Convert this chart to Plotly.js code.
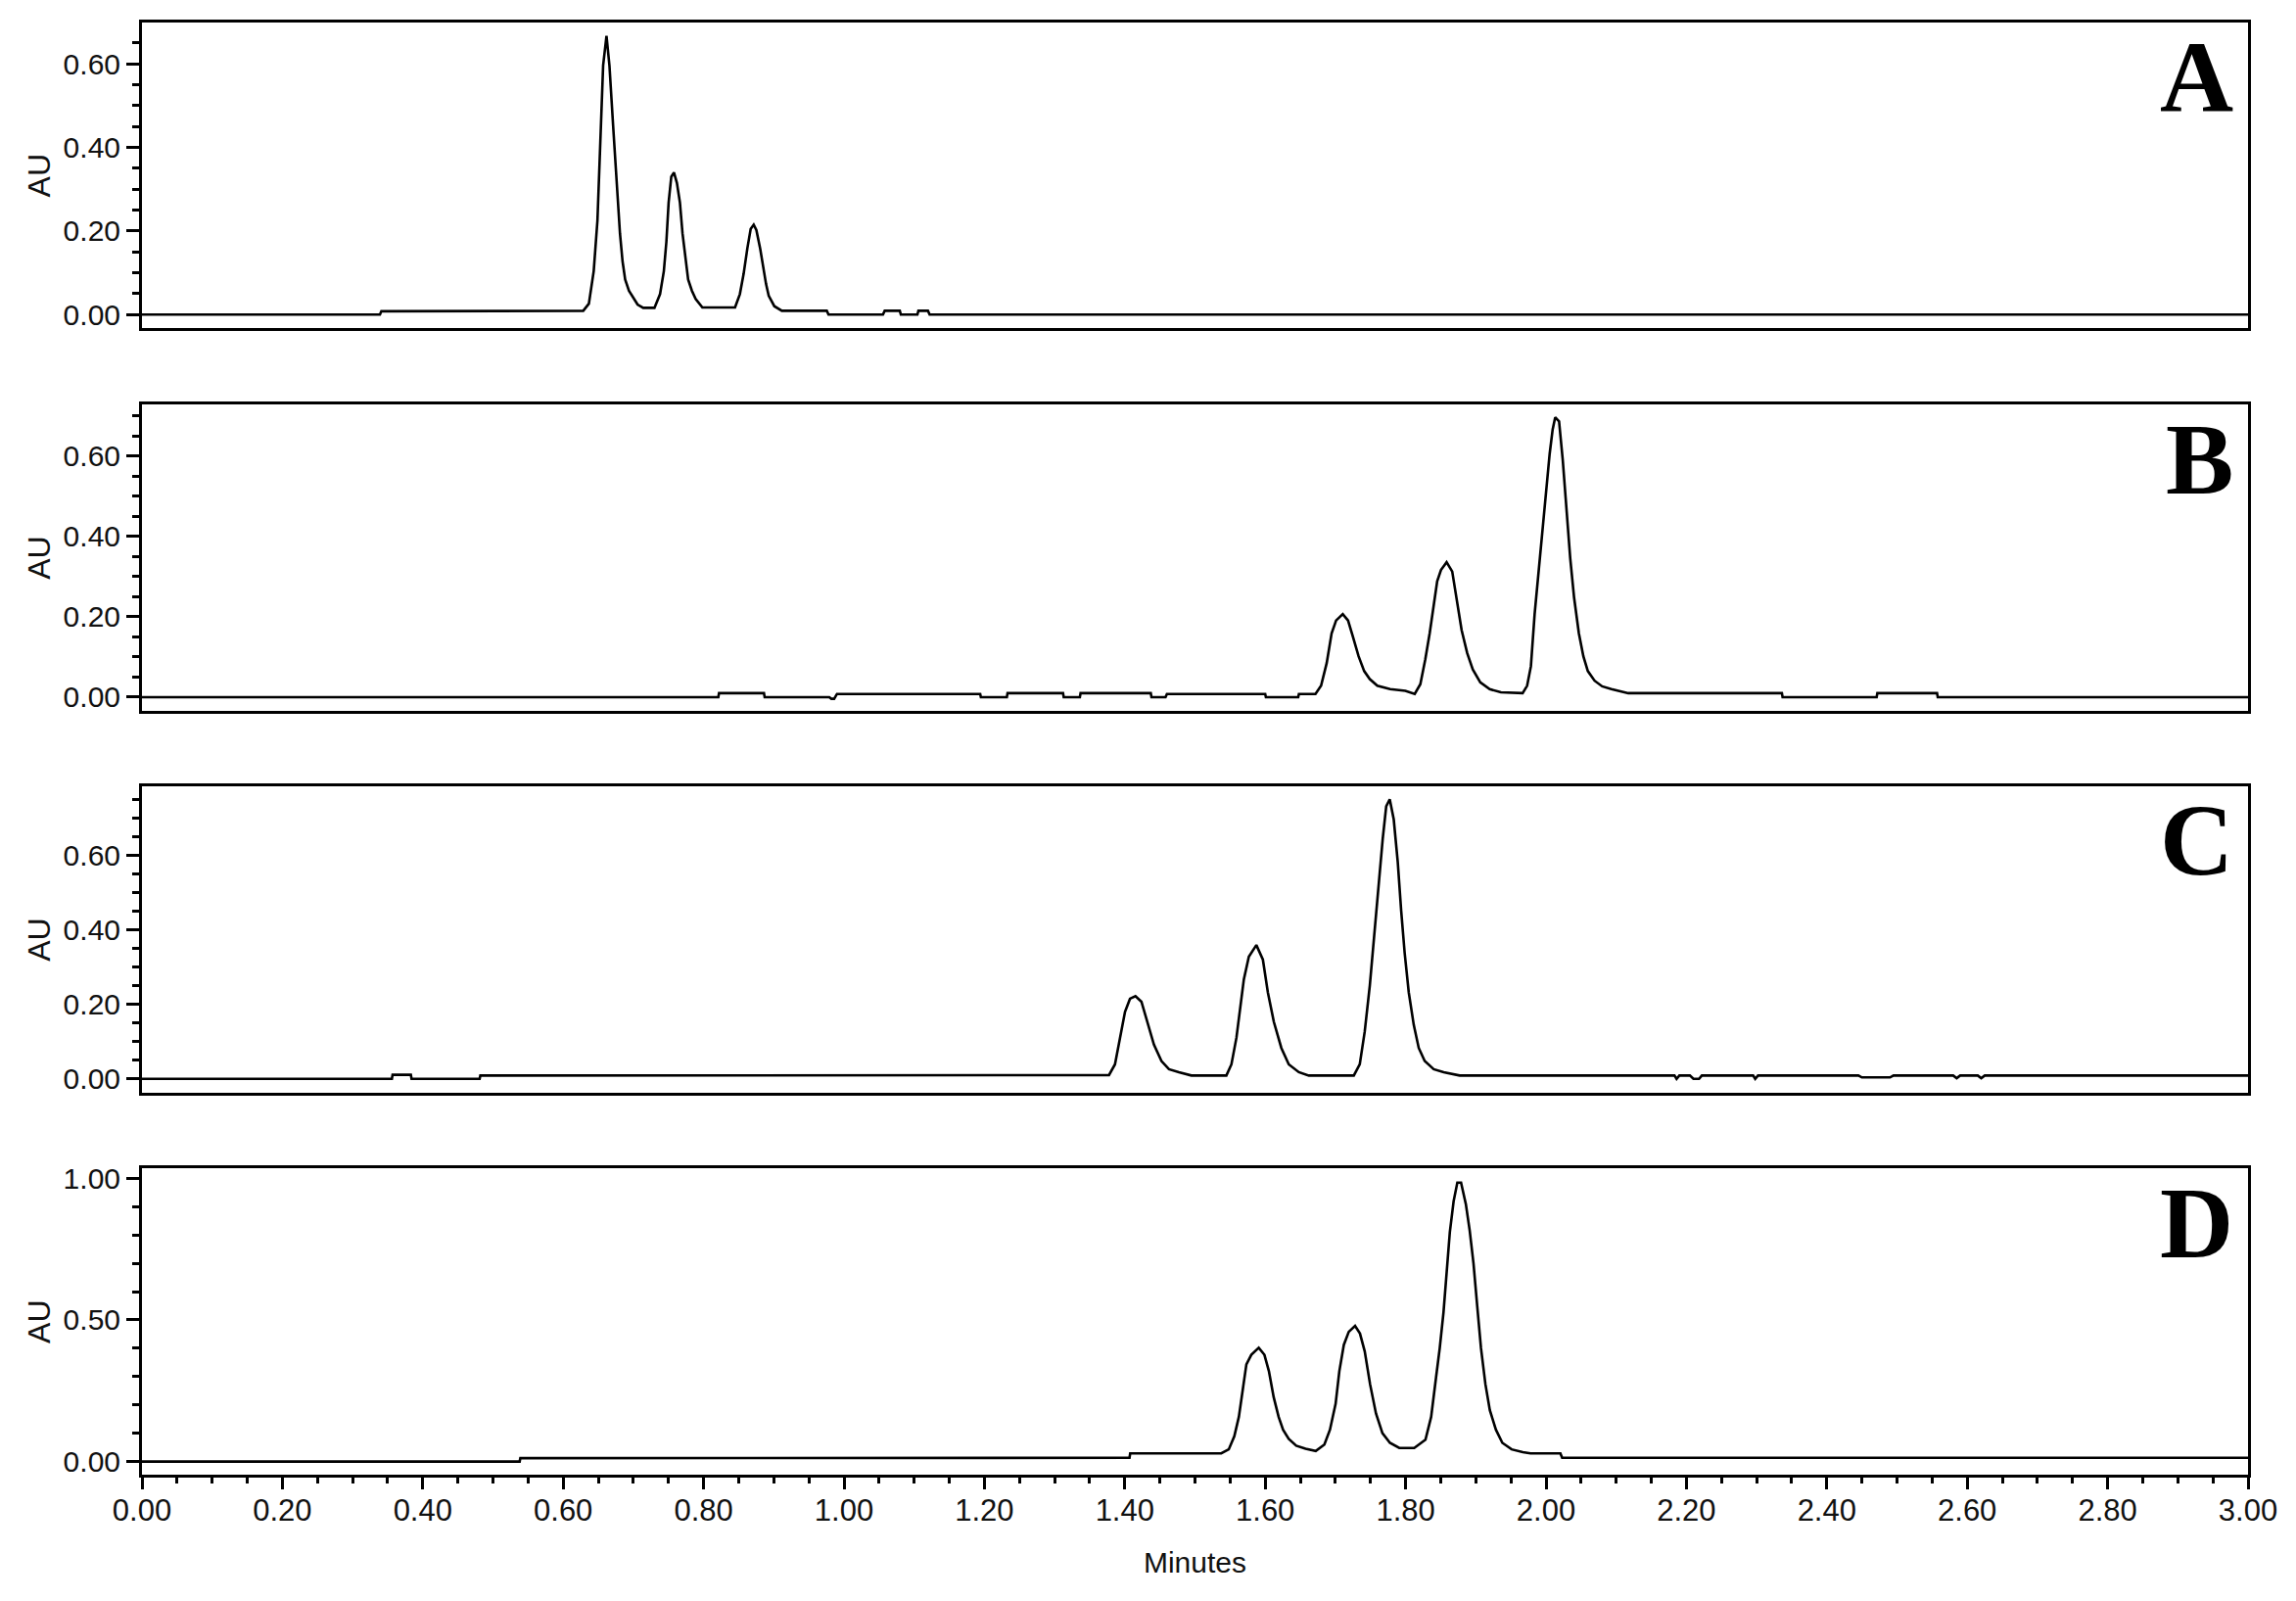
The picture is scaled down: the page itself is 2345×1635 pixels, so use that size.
<!DOCTYPE html>
<html>
<head>
<meta charset="utf-8">
<script src="https://cdn.plot.ly/plotly-3.0.1.min.js"></script>
<style>html,body{margin:0;padding:0;background:#fff;}</style>
</head>
<body>
<div id="chart" style="width:2345px;height:1635px;"></div>
<script>
// ---------- data ----------
const panelLabels = ['A', 'B', 'C', 'D'];
const xAxisTitle = 'Minutes';
const yAxisTitle = 'AU';

// Panel A
const timeA = [0, 0.339, 0.341, 0.6286, 0.6366, 0.6435, 0.6488, 0.6526, 0.6569, 0.6617, 0.6659, 0.6713, 0.6766, 0.6809, 0.6846, 0.6883, 0.6937, 0.7006, 0.706, 0.714, 0.730, 0.738, 0.7434, 0.747, 0.7502, 0.754, 0.7578, 0.762, 0.7663, 0.770, 0.7738, 0.778, 0.7834, 0.7887, 0.7983, 0.8448, 0.8517, 0.857, 0.8624, 0.8671, 0.8714, 0.8752, 0.8805, 0.8848, 0.889, 0.8928, 0.9008, 0.9115, 0.9755, 0.978, 1.0555, 1.058, 1.0795, 1.081, 1.1046, 1.106, 1.1196, 1.122, 3.0];
const auA   = [0, 0, 0.008, 0.009, 0.026, 0.104, 0.225, 0.415, 0.596, 0.667, 0.596, 0.448, 0.299, 0.194, 0.127, 0.084, 0.057, 0.0375, 0.024, 0.016, 0.016, 0.049, 0.104, 0.174, 0.268, 0.330, 0.340, 0.315, 0.268, 0.194, 0.135, 0.084, 0.057, 0.0375, 0.017, 0.017, 0.049, 0.097, 0.159, 0.205, 0.215, 0.202, 0.159, 0.112, 0.073, 0.045, 0.020, 0.009, 0.009, 0, 0, 0.009, 0.009, 0, 0, 0.009, 0.009, 0, 0];

// Panel B
const timeB = [0, 0.821, 0.822, 0.886, 0.887, 0.979, 0.982, 0.986, 0.99, 1.194, 1.195, 1.232, 1.233, 1.312, 1.313, 1.336, 1.337, 1.437, 1.438, 1.458, 1.46, 1.600, 1.601, 1.647, 1.648, 1.6716, 1.6796, 1.6876, 1.6946, 1.701, 1.7105, 1.718, 1.725, 1.733, 1.741, 1.749, 1.7597, 1.778, 1.7997, 1.813, 1.821, 1.828, 1.8343, 1.8396, 1.845, 1.8504, 1.8584, 1.8664, 1.8728, 1.8798, 1.8877, 1.8957, 1.9064, 1.9198, 1.9358, 1.9667, 1.9731, 1.9785, 1.9838, 1.9891, 1.9944, 1.9998, 2.0052, 2.0095, 2.0131, 2.0186, 2.0239, 2.0292, 2.0345, 2.040, 2.0468, 2.0532, 2.0596, 2.0692, 2.080, 2.0932, 2.1173, 2.336, 2.337, 2.471, 2.472, 2.557, 2.558, 3.0];
const auB   = [0, 0, 0.01, 0.01, 0, 0, -0.004, -0.004, 0.008, 0.008, 0, 0, 0.01, 0.01, 0, 0, 0.01, 0.01, 0, 0, 0.008, 0.008, 0, 0, 0.008, 0.008, 0.0285, 0.085, 0.159, 0.191, 0.207, 0.191, 0.150, 0.102, 0.065, 0.045, 0.0285, 0.020, 0.016, 0.008, 0.0325, 0.094, 0.159, 0.224, 0.289, 0.317, 0.336, 0.313, 0.240, 0.167, 0.110, 0.069, 0.037, 0.020, 0.012, 0.010, 0.0285, 0.077, 0.207, 0.305, 0.419, 0.520, 0.606, 0.667, 0.697, 0.687, 0.590, 0.468, 0.346, 0.248, 0.159, 0.102, 0.065, 0.041, 0.027, 0.020, 0.01, 0.01, 0, 0, 0.01, 0.01, 0, 0];

// Panel C
const timeC = [0, 0.356, 0.357, 0.383, 0.384, 0.481, 0.482, 1.3775, 1.386, 1.3932, 1.4003, 1.4074, 1.4152, 1.4237, 1.4323, 1.4415, 1.4522, 1.4629, 1.4771, 1.4949, 1.5447, 1.5519, 1.559, 1.5639, 1.5696, 1.5767, 1.5874, 1.5967, 1.6038, 1.6123, 1.623, 1.6336, 1.6479, 1.6621, 1.7262, 1.7347, 1.7418, 1.749, 1.7561, 1.7618, 1.7674, 1.7724, 1.7774, 1.7831, 1.7888, 1.7937, 1.7987, 1.8045, 1.8116, 1.8187, 1.8272, 1.84, 1.8543, 1.877, 2.183, 2.186, 2.19, 2.205, 2.21, 2.218, 2.222, 2.295, 2.298, 2.302, 2.445, 2.45, 2.49, 2.495, 2.58, 2.585, 2.59, 2.615, 2.62, 2.625, 3.0];
const auC   = [0, 0, 0.011, 0.011, 0, 0, 0.009, 0.01, 0.039, 0.11, 0.18, 0.215, 0.222, 0.207, 0.153, 0.092, 0.048, 0.026, 0.018, 0.009, 0.009, 0.039, 0.11, 0.188, 0.267, 0.328, 0.359, 0.320, 0.232, 0.153, 0.083, 0.039, 0.018, 0.009, 0.009, 0.039, 0.127, 0.25, 0.407, 0.539, 0.644, 0.731, 0.750, 0.696, 0.582, 0.451, 0.337, 0.232, 0.145, 0.083, 0.048, 0.026, 0.018, 0.009, 0.009, 0, 0.009, 0.009, 0, 0, 0.009, 0.009, 0, 0.009, 0.009, 0.004, 0.004, 0.009, 0.009, 0.002, 0.009, 0.009, 0.002, 0.009, 0.009];

// Panel D
const timeD = [0, 0.538, 0.539, 1.4067, 1.4077, 1.5374, 1.5481, 1.556, 1.5625, 1.5679, 1.5732, 1.5802, 1.5908, 1.5989, 1.6053, 1.6121, 1.6191, 1.6255, 1.6335, 1.6442, 1.6575, 1.672, 1.6843, 1.6922, 1.7003, 1.7056, 1.712, 1.719, 1.728, 1.735, 1.7418, 1.7494, 1.7578, 1.767, 1.7777, 1.791, 1.8123, 1.8283, 1.8364, 1.8433, 1.8486, 1.854, 1.8593, 1.863, 1.8684, 1.8737, 1.879, 1.8859, 1.8913, 1.8967, 1.902, 1.9074, 1.9137, 1.920, 1.9287, 1.9378, 1.951, 1.967, 1.978, 2.0205, 2.023, 3.0];
const auD   = [0, 0, 0.012, 0.013, 0.029, 0.029, 0.043, 0.089, 0.158, 0.250, 0.343, 0.377, 0.402, 0.377, 0.319, 0.227, 0.158, 0.112, 0.080, 0.056, 0.045, 0.037, 0.060, 0.112, 0.204, 0.319, 0.412, 0.458, 0.479, 0.452, 0.389, 0.273, 0.170, 0.100, 0.066, 0.048, 0.048, 0.077, 0.158, 0.296, 0.400, 0.527, 0.677, 0.810, 0.919, 0.985, 0.985, 0.908, 0.816, 0.700, 0.550, 0.400, 0.273, 0.181, 0.112, 0.066, 0.043, 0.033, 0.029, 0.029, 0.013, 0.013];

// ---------- presentation ----------
const labelFont = 'Liberation Sans, Arial, sans-serif';
const lineStyle = {color: '#000', width: 2.6, shape: 'linear'};

const series = [
  {t: timeA, v: auA, xa: 'x2', ya: 'y'},
  {t: timeB, v: auB, xa: 'x3', ya: 'y2'},
  {t: timeC, v: auC, xa: 'x4', ya: 'y3'},
  {t: timeD, v: auD, xa: 'x',  ya: 'y4'}
];
const traces = series.map(s => ({
  type: 'scatter', mode: 'lines', x: s.t, y: s.v,
  xaxis: s.xa, yaxis: s.ya, line: lineStyle, hoverinfo: 'skip'
}));

function yAxis(domain, range, dtick, minorDtick, anchor) {
  return {
    domain: domain, range: range, anchor: anchor,
    showline: true, linecolor: '#000', linewidth: 3, mirror: true,
    showgrid: false, zeroline: false,
    ticks: 'outside', ticklen: 13, tickwidth: 3, tickcolor: '#000',
    tick0: 0, dtick: dtick, tickformat: '.2f',
    minor: {dtick: minorDtick, tick0: 0, ticks: 'outside', ticklen: 7, tickwidth: 3, tickcolor: '#000', showgrid: false},
    tickfont: {family: labelFont, size: 30, color: '#111'},
    title: {text: yAxisTitle, font: {family: labelFont, size: 32, color: '#111'}, standoff: 4},
    fixedrange: true
  };
}
function xAxisBare(anchor) {
  return {
    anchor: anchor, range: [0, 3], matches: 'x',
    showline: true, linecolor: '#000', linewidth: 3, mirror: true,
    showgrid: false, zeroline: false, ticks: '', showticklabels: false,
    fixedrange: true
  };
}

const layout = {
  width: 2345, height: 1635,
  margin: {l: 145, r: 49, t: 22.5, b: 129, pad: 0},
  paper_bgcolor: '#fff', plot_bgcolor: '#fff',
  showlegend: false,
  xaxis: {
    anchor: 'y4', range: [0, 3],
    showline: true, linecolor: '#000', linewidth: 3, mirror: true,
    showgrid: false, zeroline: false,
    ticks: 'outside', ticklen: 12, tickwidth: 3, tickcolor: '#000',
    tick0: 0, dtick: 0.2, tickformat: '.2f',
    minor: {dtick: 0.05, tick0: 0, ticks: 'outside', ticklen: 6, tickwidth: 3, tickcolor: '#000', showgrid: false},
    tickfont: {family: labelFont, size: 31, color: '#111'},
    ticklabelstandoff: -5,
    title: {text: xAxisTitle, font: {family: labelFont, size: 30, color: '#111'}, standoff: 26},
    fixedrange: true
  },
  xaxis2: xAxisBare('y'),
  xaxis3: xAxisBare('y2'),
  xaxis4: xAxisBare('y3'),
  yaxis:  yAxis([0.7894, 1.0],    [-0.033, 0.699], 0.2, 0.05, 'x2'),
  yaxis2: yAxis([0.526, 0.737],   [-0.034, 0.729], 0.2, 0.05, 'x3'),
  yaxis3: yAxis([0.2629, 0.4741], [-0.0376, 0.785], 0.2, 0.05, 'x4'),
  yaxis4: yAxis([0, 0.2108],      [-0.0464, 1.0346], 0.5, 0.1, 'x'),
  annotations: ['y', 'y2', 'y3', 'y4'].map((ya, i) => ({
    text: '<b>' + panelLabels[i] + '</b>',
    xref: 'paper', x: 1, xanchor: 'right', xshift: -13,
    yref: ya + ' domain', y: 1, yanchor: 'middle', yshift: -55,
    showarrow: false,
    font: {family: 'Liberation Serif, Times New Roman, serif', size: 104, color: '#000'}
  }))
};

Plotly.newPlot('chart', traces, layout, {displayModeBar: false, staticPlot: true});
</script>
</body>
</html>
